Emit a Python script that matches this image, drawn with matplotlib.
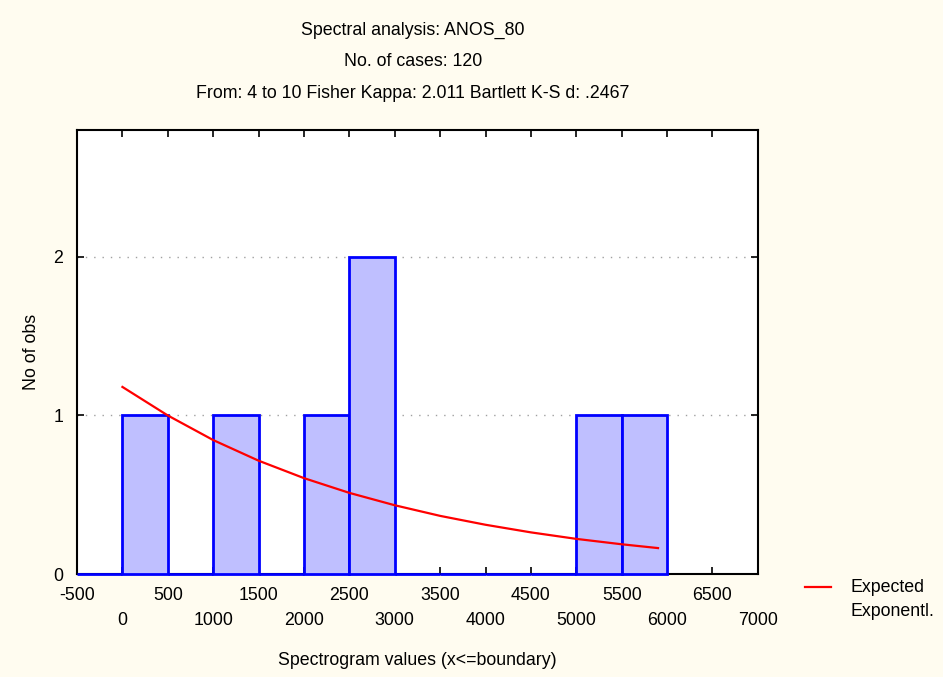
import matplotlib
matplotlib.use("Agg")
import matplotlib.pyplot as plt
from matplotlib.lines import Line2D

plt.rcParams['font.family'] = ['Liberation Sans', 'DejaVu Sans']

# Histogram of spectrogram values (bin left edges, width 500)
bin_edges = [-500, 0, 500, 1000, 1500, 2000, 2500, 3000, 3500, 4000, 4500, 5000, 5500]
counts = [0, 1, 0, 1, 0, 1, 2, 0, 0, 0, 0, 1, 1]
bin_width = 500

# Expected exponential curve
exp_x = [0, 500, 1000, 1500, 2000, 2500, 3000, 3500, 4000, 4500, 5000, 5500, 5900]
exp_y = [1.18, 1.00, 0.845, 0.715, 0.605, 0.512, 0.434, 0.367, 0.311, 0.263, 0.222, 0.188, 0.164]

x_ticks = list(range(-500, 7001, 500))
y_ticks = [0, 1, 2]

title_lines = ["Spectral analysis: ANOS_80",
               "No. of cases: 120",
               "From: 4 to 10 Fisher Kappa: 2.011 Bartlett K-S d: .2467"]
legend_label = ["Expected", "Exponentl."]

bg = '#FFFCF0'
fs = 12.8
fig = plt.figure(figsize=(9.43, 6.77), dpi=100, facecolor=bg)
ax = fig.add_axes([0.0817, 0.152, 0.722, 0.656])
ax.set_facecolor('white')

ax.bar(bin_edges, counts, width=bin_width, align='edge',
       facecolor='#BFBFFF', edgecolor='#0000FF', linewidth=2, zorder=4,
       clip_on=False)
ax.plot(exp_x, exp_y, color='#FF0000', linewidth=1.6, zorder=5)

ax.set_xlim(-500, 7000)
ax.set_ylim(0, 2.8)
ax.set_yticks(y_ticks)
ax.set_yticklabels([str(v) for v in y_ticks], fontsize=fs)
ax.set_xticks(x_ticks)
labels = []
for i, v in enumerate(x_ticks):
    labels.append(str(v) if i % 2 == 0 else "\n" + str(v))
ax.set_xticklabels(labels, fontsize=fs, linespacing=1.65)
ax.tick_params(axis='both', direction='in', length=5, width=1.2,
               top=True, right=True)
ax.tick_params(axis='x', pad=9)
ax.tick_params(axis='y', pad=10)

for sp in ax.spines.values():
    sp.set_linewidth(1.5)
    sp.set_color('black')

ax.grid(axis='y', linestyle=(0, (1, 5)), color='#A0A0A0', linewidth=1, zorder=1)
ax.set_axisbelow(True)

ax.set_ylabel("No of obs", fontsize=fs)
ax.yaxis.set_label_coords(-0.054, 0.5)
ax.set_xlabel("Spectrogram values (x<=boundary)", fontsize=fs)
ax.xaxis.set_label_coords(0.5, -0.176)

for i, line in enumerate(title_lines):
    fig.text(0.4378, 1 - (30 + 32 * i) / 677, line, ha='center', va='center', fontsize=fs)

# Legend drawn in figure coordinates
fig.add_artist(Line2D([805 / 943, 831 / 943], [1 - 587 / 677, 1 - 587 / 677],
                      transform=fig.transFigure, color='#FF0000', linewidth=1.6))
for i, t in enumerate(legend_label):
    fig.text(850 / 943, 1 - (588 + 24 * i) / 677, t, ha='left', va='center', fontsize=fs)

fig.savefig("out.png", dpi=100, facecolor=bg)
